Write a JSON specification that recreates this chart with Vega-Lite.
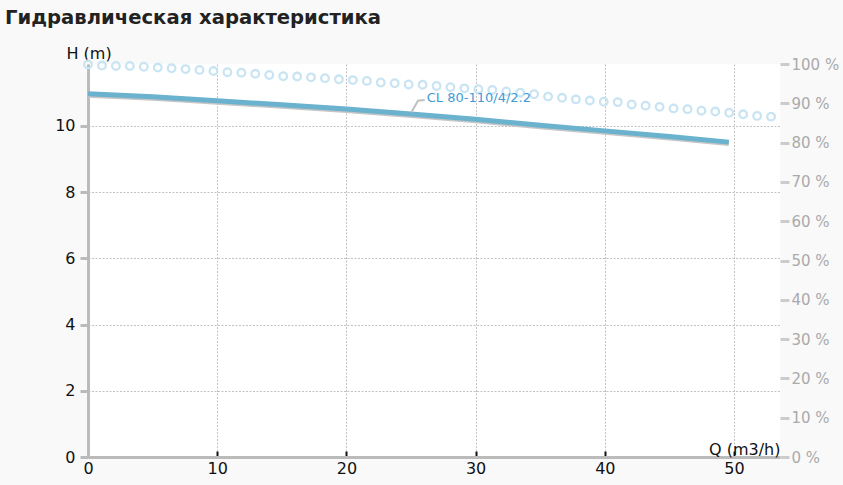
{
  "$schema": "https://vega.github.io/schema/vega-lite/v6.json",
  "autosize": {"type": "none"},
  "padding": {"left": 88, "top": 64, "right": 63, "bottom": 28},
  "width": 692,
  "height": 393,
  "background": "#f9f9f9",
  "title": {
    "text": "Гидравлическая характеристика",
    "anchor": "start",
    "frame": "group",
    "dx": -83,
    "offset": 16,
    "fontSize": 19.6,
    "fontWeight": "bold",
    "color": "#222222",
    "font": "DejaVu Sans"
  },
  "datasets": {
    "pump": [
      {"Q": 0, "H": 10.97},
      {"Q": 5, "H": 10.88},
      {"Q": 10, "H": 10.76},
      {"Q": 15, "H": 10.64},
      {"Q": 20, "H": 10.51},
      {"Q": 25, "H": 10.36},
      {"Q": 30, "H": 10.2},
      {"Q": 35, "H": 10.02},
      {"Q": 40, "H": 9.85},
      {"Q": 45, "H": 9.68},
      {"Q": 49.6, "H": 9.51}
    ],
    "eff": [
      {"Q": 0, "E": 99.9}, {"Q": 1.08, "E": 99.6}, {"Q": 2.16, "E": 99.5},
      {"Q": 3.24, "E": 99.5}, {"Q": 4.32, "E": 99.3}, {"Q": 5.4, "E": 99.1},
      {"Q": 6.47, "E": 98.9}, {"Q": 7.55, "E": 98.7}, {"Q": 8.63, "E": 98.5},
      {"Q": 9.71, "E": 98.2}, {"Q": 10.79, "E": 97.9}, {"Q": 11.87, "E": 97.8},
      {"Q": 12.95, "E": 97.5}, {"Q": 14.03, "E": 97.2}, {"Q": 15.11, "E": 96.9},
      {"Q": 16.19, "E": 96.8}, {"Q": 17.26, "E": 96.6}, {"Q": 18.34, "E": 96.4},
      {"Q": 19.42, "E": 96.1}, {"Q": 20.5, "E": 95.9}, {"Q": 21.58, "E": 95.7},
      {"Q": 22.66, "E": 95.3}, {"Q": 23.74, "E": 95.1}, {"Q": 24.82, "E": 94.8},
      {"Q": 25.9, "E": 94.7}, {"Q": 26.98, "E": 94.4}, {"Q": 28.05, "E": 94.1},
      {"Q": 29.13, "E": 93.8}, {"Q": 30.21, "E": 93.6}, {"Q": 31.29, "E": 93.4},
      {"Q": 32.37, "E": 93.0}, {"Q": 33.45, "E": 92.7}, {"Q": 34.53, "E": 92.3},
      {"Q": 35.61, "E": 91.7}, {"Q": 36.69, "E": 91.4}, {"Q": 37.76, "E": 91.0},
      {"Q": 38.84, "E": 90.7}, {"Q": 39.92, "E": 90.4}, {"Q": 41.0, "E": 90.3},
      {"Q": 42.08, "E": 89.7}, {"Q": 43.16, "E": 89.4}, {"Q": 44.24, "E": 89.1},
      {"Q": 45.32, "E": 88.7}, {"Q": 46.4, "E": 88.5}, {"Q": 47.48, "E": 88.1},
      {"Q": 48.55, "E": 87.9}, {"Q": 49.63, "E": 87.6}, {"Q": 50.71, "E": 87.2},
      {"Q": 51.79, "E": 86.8}, {"Q": 52.87, "E": 86.6}
    ],
    "leader": [
      {"Q": 25.03, "H": 10.41, "o": 0},
      {"Q": 25.54, "H": 10.76, "o": 1},
      {"Q": 26.06, "H": 10.78, "o": 2}
    ],
    "label": [
      {"Q": 26.22, "H": 10.84, "name": "CL 80-110/4/2.2"}
    ]
  },
  "config": {
    "font": "DejaVu Sans",
    "view": {"fill": "white", "stroke": null}
  },
  "layer": [
    {
      "data": {"name": "eff"},
      "mark": {"type": "point", "shape": "circle", "filled": false, "size": 58, "strokeWidth": 2.3, "color": "#c9e4f2", "opacity": 1},
      "encoding": {
        "x": {
          "field": "Q", "type": "quantitative",
          "scale": {"domain": [0, 53.56], "nice": false, "zero": false},
          "axis": {
            "values": [0, 10, 20, 30, 40, 50],
            "title": "Q (m3/h)",
            "titleX": 692, "titleY": -3,
            "titleAlign": "right", "titleBaseline": "alphabetic",
            "titleFontSize": 16, "titleFontWeight": "normal", "titleColor": "#111111",
            "labelFontSize": 16, "labelColor": "#111111", "labelPadding": 9,
            "labelFlush": false,
            "domainColor": "#bbbbbb", "domainWidth": 3,
            "tickColor": "#111111", "tickWidth": 2, "tickSize": -6,
            "grid": true, "gridColor": "#c2c2c2", "gridDash": [2, 1.5], "gridWidth": 1
          }
        },
        "y": {
          "field": "E", "type": "quantitative",
          "scale": {"domain": [0, 100], "nice": false},
          "axis": {
            "orient": "right",
            "values": [0, 10, 20, 30, 40, 50, 60, 70, 80, 90, 100],
            "labelExpr": "datum.value + ' %'",
            "title": null, "domain": false, "grid": false,
            "tickColor": "#cccccc", "tickWidth": 3, "tickSize": 9,
            "labelPadding": 2, "labelFontSize": 15, "labelColor": "#aaaaaa"
          }
        }
      }
    },
    {
      "layer": [
        {
          "data": {"name": "pump"},
          "mark": {"type": "line", "color": "#c6c6c6", "strokeWidth": 5, "yOffset": 1.5},
          "encoding": {
            "x": {"field": "Q", "type": "quantitative"},
            "y": {
              "field": "H", "type": "quantitative",
              "scale": {"domain": [0, 11.87], "nice": false},
              "axis": {
                "orient": "left",
                "values": [0, 2, 4, 6, 8, 10],
                "title": "H (m)",
                "titleAngle": 0, "titleX": -22, "titleY": -11,
                "titleAlign": "left", "titleBaseline": "middle",
                "titleFontSize": 16, "titleFontWeight": "normal", "titleColor": "#111111",
                "labelFontSize": 16, "labelColor": "#111111", "labelPadding": 5,
                "domainColor": "#bbbbbb", "domainWidth": 3,
                "tickColor": "#bbbbbb", "tickWidth": 3, "tickSize": 8,
                "grid": true, "gridColor": "#c2c2c2", "gridDash": [2, 1.5], "gridWidth": 1
              }
            }
          }
        },
        {
          "data": {"name": "pump"},
          "mark": {"type": "line", "color": "#6ab2cd", "strokeWidth": 5},
          "encoding": {
            "x": {"field": "Q", "type": "quantitative"},
            "y": {"field": "H", "type": "quantitative"}
          }
        },
        {
          "data": {"name": "leader"},
          "mark": {"type": "line", "color": "#c0c0c0", "strokeWidth": 2},
          "encoding": {
            "x": {"field": "Q", "type": "quantitative"},
            "y": {"field": "H", "type": "quantitative"},
            "order": {"field": "o"}
          }
        },
        {
          "data": {"name": "label"},
          "mark": {"type": "text", "align": "left", "baseline": "middle", "fontSize": 13, "color": "#3f9bd6"},
          "encoding": {
            "x": {"field": "Q", "type": "quantitative"},
            "y": {"field": "H", "type": "quantitative"},
            "text": {"field": "name"}
          }
        }
      ]
    }
  ],
  "resolve": {"scale": {"y": "independent"}}
}
